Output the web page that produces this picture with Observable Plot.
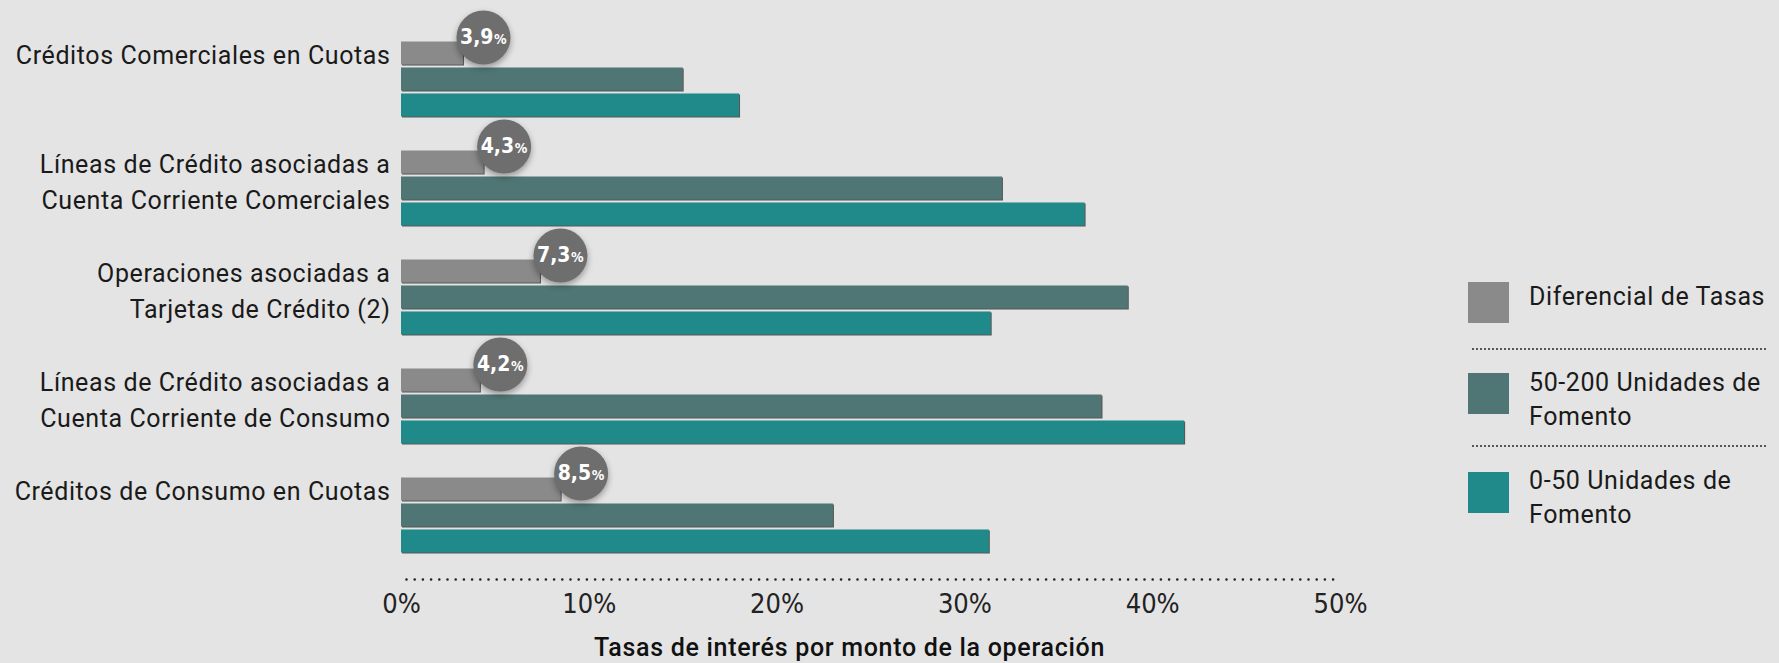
<!DOCTYPE html>
<html>
<head>
<meta charset="utf-8">
<script src="https://cdn.jsdelivr.net/npm/d3@7"></script>
<script src="https://cdn.jsdelivr.net/npm/@observablehq/plot@0.6"></script>
<style>
  html, body { margin: 0; padding: 0; background: #e4e4e4; }
  body { width: 1779px; height: 663px; overflow: hidden; position: relative; font-family: Roboto, "Noto Sans", sans-serif; }
  #chart { position: absolute; left: 0; top: 0; }
  #chart svg { background: transparent; }
  #chart g[aria-label="bar"] rect { filter: drop-shadow(1px 1.5px 0 rgba(40,40,40,0.75)); }
  #chart g[aria-label="dot"] circle { filter: drop-shadow(0 3px 3px rgba(0,0,0,0.35)); }
  #chart g.cat text { letter-spacing: 0.6px; }
  #chart g.xtitle text { letter-spacing: 0.7px; }
  .sw { position: absolute; left: 1468px; width: 41px; height: 41px; }
  .lt { position: absolute; left: 1529px; font-size: 25px; line-height: 33.5px; color: #1a1a1a; letter-spacing: 0.6px; white-space: nowrap; }
  .sep { position: absolute; left: 1472px; width: 295px; height: 1.6px;
         background: repeating-linear-gradient(to right, #555 0 1.6px, transparent 1.6px 4px); }
</style>
</head>
<body>
<div id="chart"></div>
<div id="legend"></div>
<script>
// ---- data ----
const categories = [
  "Créditos Comerciales en Cuotas",
  "Líneas de Crédito asociadas a\nCuenta Corriente Comerciales",
  "Operaciones asociadas a\nTarjetas de Crédito (2)",
  "Líneas de Crédito asociadas a\nCuenta Corriente de Consumo",
  "Créditos de Consumo en Cuotas"
];
const seriesNames = ["Diferencial de Tasas", "50-200 Unidades de\nFomento", "0-50 Unidades de\nFomento"];
const seriesColors = ["#8a8a8a", "#4f7674", "#208a8a"];
const diferencial = [3.3, 4.4, 7.4, 4.2, 8.5];
const uf50a200 = [15.0, 32.0, 38.7, 37.3, 23.0];
const uf0a50 = [18.0, 36.4, 31.4, 41.7, 31.3];
const diferencialLabels = ["3,9", "4,3", "7,3", "4,2", "8,5"];
const xTicks = [0, 10, 20, 30, 40, 50];
const xTitle = "Tasas de interés por monto de la operación";

const rows = categories.map((c, i) => ({
  categoria: c,
  diferencial: diferencial[i],
  uf50a200: uf50a200[i],
  uf0a50: uf0a50[i],
  etiqueta: diferencialLabels[i]
}));

// ---- layout ----
const W = 1450, H = 663;
const mTop = 39.6, mBottom = 108, mLeft = 401, mRight = 110;
const padIn = 0.287;
const rangeH = H - mTop - mBottom;
const step = rangeH / (categories.length - padIn);
const bw = step * (1 - padIn);
const third = bw / 3;
const gap = 1.5;
const labelFont = "Roboto, 'Noto Sans', sans-serif";
const tickFont = "'Liberation Sans Narrow', 'DejaVu Sans Condensed', Roboto, sans-serif";

const chart = Plot.plot({
  width: W,
  height: H,
  marginTop: mTop,
  marginBottom: mBottom,
  marginLeft: mLeft,
  marginRight: mRight,
  style: { background: "transparent", fontFamily: labelFont },
  x: { domain: [0, 50], axis: null },
  y: { domain: categories, axis: null, paddingInner: padIn, paddingOuter: 0 },
  marks: [
    Plot.barX(rows, { x: "diferencial", y: "categoria", fill: seriesColors[0], insetTop: gap, insetBottom: 2 * third + gap }),
    Plot.barX(rows, { x: "uf50a200", y: "categoria", fill: seriesColors[1], insetTop: third + gap, insetBottom: third + gap }),
    Plot.barX(rows, { x: "uf0a50", y: "categoria", fill: seriesColors[2], insetTop: 2 * third + gap, insetBottom: gap }),
    Plot.text(categories, {
      y: d => d, text: d => d, frameAnchor: "left", textAnchor: "end", dx: -11,
      lineAnchor: "top", dy: -bw / 2 - 2, lineHeight: 1.45, fontSize: 25, fill: "#1a1a1a",
      fontFamily: labelFont, className: "cat"
    }),
    Plot.dot(rows, { x: "diferencial", y: "categoria", r: 27, fill: "#6e6e6e", dx: 20, dy: -bw / 2 - 3 }),
    Plot.text(rows, {
      x: "diferencial", y: "categoria", text: "etiqueta", fill: "white", fontWeight: "bold",
      fontSize: 21, textAnchor: "end", dx: 30, dy: -bw / 2 - 3, fontFamily: tickFont
    }),
    Plot.text(rows, {
      x: "diferencial", y: "categoria", text: () => "%", fill: "white", fontWeight: "bold",
      fontSize: 14, textAnchor: "start", dx: 30.5, dy: -bw / 2 - 3 + 2.2, fontFamily: tickFont
    }),
    Plot.frame({ anchor: "bottom", dy: 24, insetLeft: 5, stroke: "#222", strokeWidth: 2.6, strokeDasharray: "0 8.2", strokeLinecap: "round" }),
    Plot.axisX(xTicks, {
      anchor: "bottom", tickSize: 0, tickPadding: 38, tickFormat: d => d + "%",
      fontSize: 27, fontFamily: tickFont, fill: "#222", label: null
    }),
    Plot.text([xTitle], {
      text: d => d, frameAnchor: "bottom", lineAnchor: "top", dy: 83, dx: -21.5,
      fontSize: 25, fontWeight: 500, fill: "#111", fontFamily: labelFont, className: "xtitle"
    })
  ]
});
document.getElementById("chart").appendChild(chart);

// ---- legend (right side) ----
const legend = document.getElementById("legend");
const swatchTops = [282, 373, 472];
const textTops = [280, 366, 464];
const sepTops = [348, 445];
seriesNames.forEach((name, i) => {
  const sw = document.createElement("div");
  sw.className = "sw";
  sw.style.top = swatchTops[i] + "px";
  sw.style.background = seriesColors[i];
  legend.appendChild(sw);
  const t = document.createElement("div");
  t.className = "lt";
  t.style.top = textTops[i] + "px";
  t.innerHTML = name.split("\n").join("<br>");
  legend.appendChild(t);
});
sepTops.forEach(top => {
  const s = document.createElement("div");
  s.className = "sep";
  s.style.top = top + "px";
  legend.appendChild(s);
});
</script>
</body>
</html>
